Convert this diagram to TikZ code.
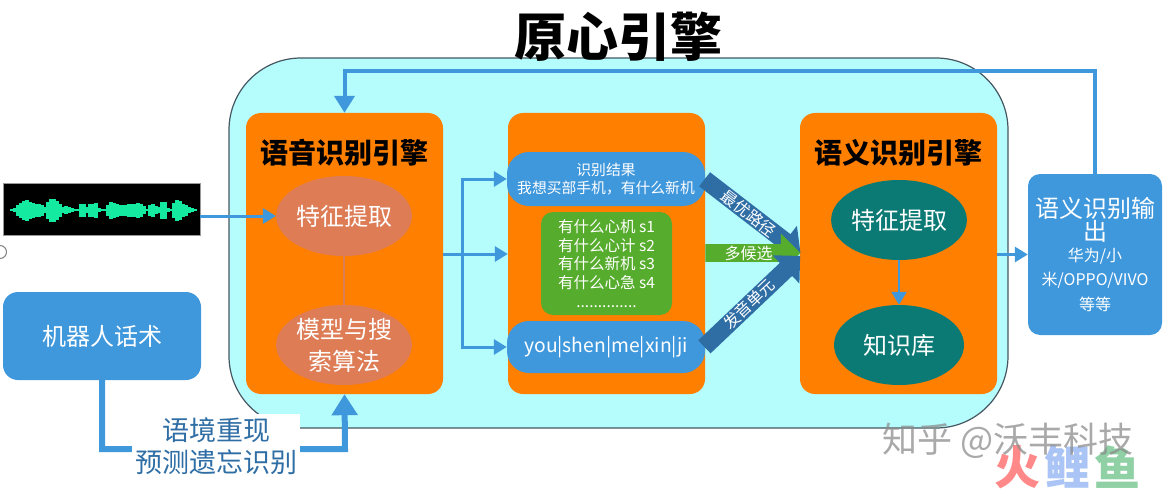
\documentclass[tikz,border=0pt]{standalone}
\usepackage{fontspec}
\setmainfont{Noto Sans CJK SC}
\usetikzlibrary{shapes.geometric,shapes.arrows,arrows.meta}
\newcommand{\fsz}[1]{\fontsize{#1}{\dimexpr#1pt*6/5\relax}\selectfont}
\definecolor{engineOrange}{RGB}{255,127,0}
\definecolor{poolCyan}{RGB}{181,252,252}
\definecolor{flowBlue}{RGB}{63,151,220}
\definecolor{darkBlue}{RGB}{47,110,165}
\definecolor{leafGreen}{RGB}{86,172,44}
\definecolor{clayEll}{RGB}{221,124,85}
\definecolor{tealEll}{RGB}{11,122,117}
\definecolor{waveGreen}{RGB}{20,235,160}
\definecolor{markRed}{RGB}{255,136,136}
\definecolor{markBlue}{RGB}{169,196,245}
\definecolor{markGreen}{RGB}{143,208,165}
\begin{document}
\begin{tikzpicture}[
  x=1pt, y=-1pt, line cap=butt, line join=miter,
  panel/.style={rectangle, fill=engineOrange, rounded corners=15pt, minimum width=197pt, minimum height=281pt, inner sep=0pt},
  blob/.style={ellipse, minimum width=130pt, minimum height=80pt, inner sep=0pt, align=center, text=white, font=\fsz{24}},
  bluebox/.style={rectangle, fill=flowBlue, rounded corners=18pt, inner sep=0pt, align=center, text=white},
  fatarrow/.style={single arrow, single arrow head extend=9pt, minimum width=39pt, inner sep=0pt, text=white, font=\fsz{16}},
  heading/.style={font=\fsz{28}\bfseries, inner sep=0pt},
  flow/.style={draw=flowBlue, line width=3pt},
  flowtip/.style={flow, -{Triangle[length=13pt, width=15pt]}},
  thick flow/.style={draw=flowBlue, line width=6pt, -{Triangle[length=21pt, width=25pt]}}
]
\useasboundingbox (0,0) rectangle (1164,492);
% Large pool behind the engines
\draw[fill=poolCyan, draw=black!70!cyan, line width=1.2pt, rounded corners=72pt] (229,58) rectangle (1008,428);
\node[font=\fsz{52}\bfseries, inner sep=0pt] (title) at (618,37) {原心引擎};
% Three panels
\node[panel] (asr) at (344.5,253.5) {};
\node[panel] (midpanel) at (606.5,253.5) {};
\node[panel] (nlu) at (898.5,253.5) {};
\node[heading] (asrhead) at (344,153) {语音识别引擎};
\node[heading] (nluhead) at (898,153) {语义识别引擎};
% Ellipses
\node[blob, fill=clayEll] (asrfeat) at (344,216) {特征提取};
\node[blob, fill=clayEll] (asrmodel) at (344,345) {模型与搜\\[3pt]索算法};
\node[blob, fill=tealEll] (nlufeat) at (899,220) {特征提取};
\node[blob, fill=tealEll] (nlukb) at (899,345) {知识库};
\draw[clayEll, line width=2pt] (asrfeat) -- (asrmodel);
\draw[flowtip, line width=2.5pt] (nlufeat) -- (nlukb);
% Middle panel boxes
\node[bluebox, minimum width=198pt, minimum height=54pt, rounded corners=22pt, font=\fsz{14.8}] (result) at (606,179) {识别结果\\我想买部手机，有什么新机};
\node[bluebox, fill=leafGreen, rounded corners=12pt, minimum width=131pt, minimum height=103pt, font=\fsz{15.5}] (nbest) at (606.5,263.5) {有什么心机 s1\\有什么心计 s2\\有什么新机 s3\\有什么心急 s4\\..............};
\node[bluebox, minimum width=198pt, minimum height=52pt, rounded corners=22pt, font=\fsz{19.3}] (pinyin) at (606,347) {you|shen|me|xin|ji};
% Fat arrows into the last panel
\node[fatarrow, fill=darkBlue, minimum height=121pt, rotate=-37.6] (bestpath) at (749,213.5) {最优路径};
\node[fatarrow, fill=leafGreen, minimum height=95pt] (candidates) at (748.5,253) {多候选};
\node[fatarrow, fill=darkBlue, minimum height=132pt, rotate=43.5] (phones) at (749,304.5) {发音单元};
% Waveform
\node[rectangle, fill=black, draw=black!40, line width=0.8pt, minimum width=197pt, minimum height=52pt, inner sep=0pt] (wave) at (101.5,209.5) {};
\foreach \wx/\wh in {12/1,15/2,18/5,21/7,24/9,27/10,30/8,33/7,36/6,39/6,42/5,45/3,48/8,51/11,54/11,57/9,60/6,63/3,66/4,69/3,72/2,75/1,78/1,81/6,84/6,87/3,90/6,93/6,96/7,99/2,102/1,105/1,108/5,111/8,114/7,117/6,120/5,123/5,126/5,129/6,132/6,135/6,138/7,141/6,144/4,147/1,150/5,153/6,156/4,159/3,162/8,165/8,168/2,171/1,174/7,177/10,180/9,183/6,186/5,189/3,192/2,195/1}
  \fill[waveGreen] (\wx-1.7,210-\wh) rectangle (\wx+1.7,210+\wh*1.1);
\draw[black!50, line width=1pt] (0,252) circle (6.5);
\draw[flowtip] (asrfeat.west -| wave.east) -- (asrfeat.west);
% Robot script box
\node[bluebox, rounded corners=15pt, minimum width=198pt, minimum height=88pt, font=\fsz{24}] (robot) at (102,336) {机器人话术};
% Output box
\node[bluebox, rounded corners=12pt, minimum width=134pt, minimum height=161pt, font=\fsz{16}] (output) at (1095,254.5) {\fsz{24}语义识别输\\\fsz{24}出\\[2pt]华为/小\\[5pt]米/OPPO/VIVO\\[6pt]等等};
% Connectors
\coordinate (split) at (462,254);
\coordinate (turn) at (345,449);
\draw[flow] (asr.east |- split) -- (split);
\draw[flowtip] (split) |- (result.west);
\draw[flowtip] (split) -- (split -| midpanel.west);
\draw[flowtip] (split) |- (pinyin.west);
\draw[flowtip] (nlu.east |- output.west) -- (output.west);
\draw[flow, line width=4pt, -{Triangle[length=17pt, width=20pt]}] (output.north) -- ++(0,-103) -| (asr.north);
\draw[thick flow] (robot.south) |- (turn) -- (asr.south);
\node[fill=white, inner sep=0pt, minimum width=168pt, minimum height=64pt, align=center, text=darkBlue, font=\fsz{27}] (recall) at (216,446) {语境重现\\预测遗忘识别};
% Watermark
\node[text=markRed, font=\fsz{46}\bfseries, inner sep=0pt] (huo) at (1017,467) {火};
\node[text=markBlue, font=\fsz{46}\bfseries, inner sep=0pt] (li) at (1067.5,467) {鲤};
\node[text=markGreen, font=\fsz{46}\bfseries, inner sep=0pt] (yu) at (1117.5,467) {鱼};
\node[text=black!45, opacity=0.75, font=\fsz{35}, inner sep=0pt] (zhihu) at (1008,441) {知乎 @沃丰科技};
\end{tikzpicture}
\end{document}
